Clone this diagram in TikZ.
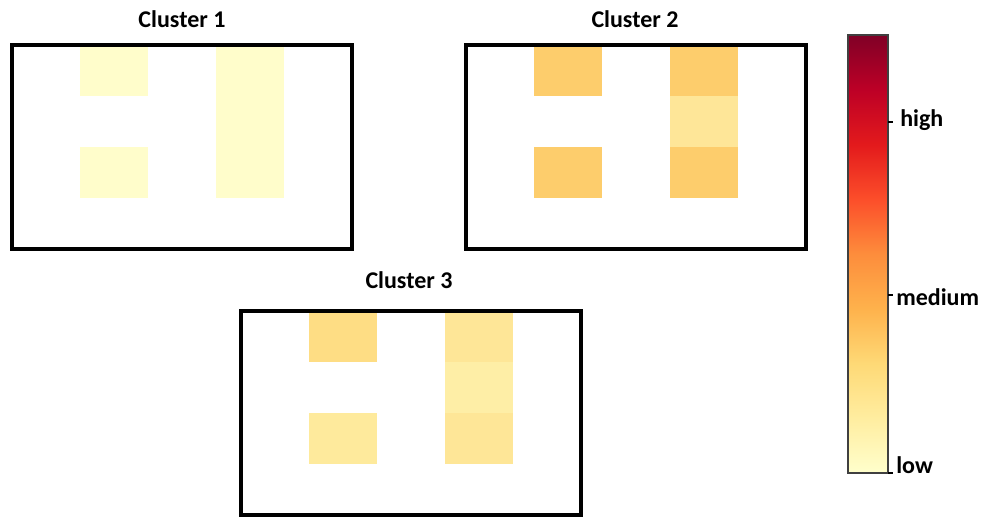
\documentclass[tikz,border=0pt]{standalone}
\usepackage{fontspec}
\setmainfont{Carlito}
\usepackage{tikz}
\usetikzlibrary{positioning}

\definecolor{ylA}{HTML}{FFFFCC}
\definecolor{ylB}{HTML}{FFEDA0}
\definecolor{ylC}{HTML}{FED976}
\definecolor{orA}{HTML}{FEB24C}
\definecolor{orB}{HTML}{FD8D3C}
\definecolor{rdA}{HTML}{FC4E2A}
\definecolor{rdB}{HTML}{E31A1C}
\definecolor{rdC}{HTML}{BD0026}
\definecolor{rdD}{HTML}{800026}
% cell colours
\definecolor{cellone}{HTML}{FFFDCB}
\definecolor{celltwoa}{HTML}{FDCD6C}
\definecolor{celltwob}{HTML}{FEE698}
\definecolor{cellthra}{HTML}{FEDD84}
\definecolor{cellthrb}{HTML}{FEEA9C}
\definecolor{cellthrc}{HTML}{FEE697}
\definecolor{cellthrd}{HTML}{FEEEA6}

\begin{document}
\begin{tikzpicture}[x=0.75pt,y=-0.75pt,
                    frame/.style={draw=black,line width=3pt},
                    title/.style={font=\fontsize{18}{20}\selectfont\bfseries,anchor=base},
                    tick label/.style={font=\fontsize{18}{20}\selectfont\bfseries,anchor=base west,inner sep=0pt}]
  \useasboundingbox (0,0) rectangle (987,519);

  % cluster 1
  \node[title] (t1) at (182,27) {Cluster 1};
  \begin{scope}[shift={(12,45)}]
    \fill[cellone] (68,0) rectangle ++(68,51);
    \fill[cellone] (68,102) rectangle ++(68,51);
    \foreach \r in {0,51,102}
      \fill[cellone] (204,\r) rectangle ++(68,51);
    \draw[frame] (0,0) rectangle (340,204);
  \end{scope}

  % cluster 2
  \node[title] (t2) at (635,27) {Cluster 2};
  \begin{scope}[shift={(466,45)}]
    \fill[celltwoa] (68,0) rectangle ++(68,51);
    \fill[celltwoa] (68,102) rectangle ++(68,51);
    \fill[celltwoa] (204,0) rectangle ++(68,51);
    \fill[celltwob] (204,51) rectangle ++(68,51);
    \fill[celltwoa] (204,102) rectangle ++(68,51);
    \draw[frame] (0,0) rectangle (340,204);
  \end{scope}

  % cluster 3
  \node[title] (t3) at (409,288) {Cluster 3};
  \begin{scope}[shift={(241,311)}]
    \fill[cellthra] (68,0) rectangle ++(68,51);
    \fill[cellthrb] (68,102) rectangle ++(68,51);
    \fill[cellthrc] (204,0) rectangle ++(68,51);
    \fill[cellthrd] (204,51) rectangle ++(68,51);
    \fill[cellthrc] (204,102) rectangle ++(68,51);
    \draw[frame] (0,0) rectangle (340,204);
  \end{scope}

  % colour bar
  \shade[bottom color=ylA,top color=ylB] (848,473) rectangle (888,418.25);
  \shade[bottom color=ylB,top color=ylC] (848,418.25) rectangle (888,363.5);
  \shade[bottom color=ylC,top color=orA] (848,363.5) rectangle (888,308.75);
  \shade[bottom color=orA,top color=orB] (848,308.75) rectangle (888,254);
  \shade[bottom color=orB,top color=rdA] (848,254) rectangle (888,199.25);
  \shade[bottom color=rdA,top color=rdB] (848,199.25) rectangle (888,144.5);
  \shade[bottom color=rdB,top color=rdC] (848,144.5) rectangle (888,89.75);
  \shade[bottom color=rdC,top color=rdD] (848,89.75) rectangle (888,35);
  \draw[black!75,line width=0.8pt] (848,35) rectangle (888,473);

  \coordinate (khigh) at (888,122);
  \coordinate (kmed) at (888,295);
  \coordinate (klow) at (888,473);
  \foreach \k in {khigh,kmed,klow}
    \draw[black,line width=0.8pt] (\k) -- ++(5,0);
  \node[tick label] (lblhigh) at (900,126) {high};
  \node[tick label] (lblmed) at (896,305) {medium};
  \node[tick label] (lbllow) at (896,473) {low};
\end{tikzpicture}
\end{document}
